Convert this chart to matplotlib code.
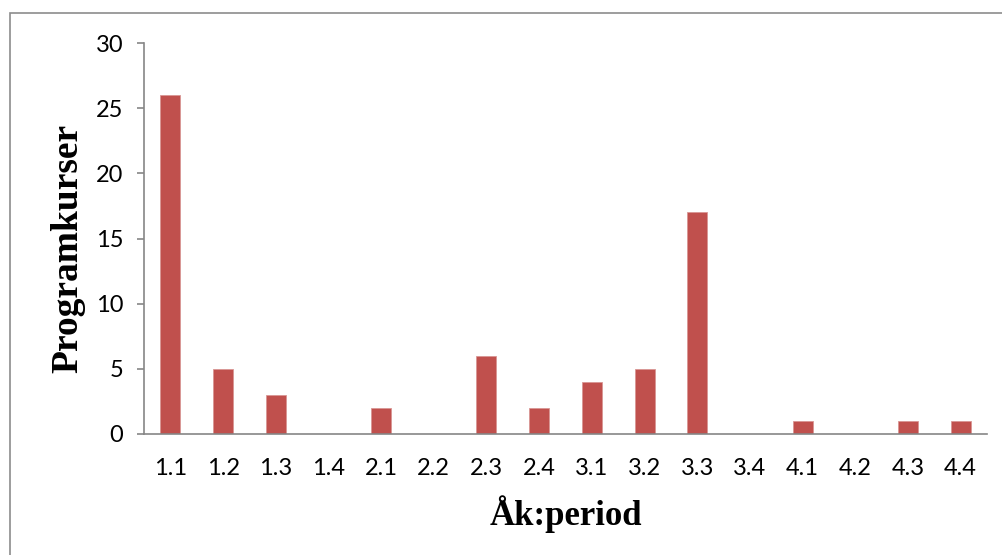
import matplotlib
matplotlib.use("Agg")
import matplotlib.pyplot as plt
from matplotlib.patches import Rectangle
import numpy as np

periods = ["1.1", "1.2", "1.3", "1.4", "2.1", "2.2", "2.3", "2.4",
           "3.1", "3.2", "3.3", "3.4", "4.1", "4.2", "4.3", "4.4"]
courses = [26, 5, 3, 0, 2, 0, 6, 2, 4, 5, 17, 0, 1, 0, 1, 1]

W, H = 1002, 555
fig = plt.figure(figsize=(W / 100, H / 100), dpi=100)
# outer frame of the chart area (only top/left visible in the original)
fig.patches.append(Rectangle((10 / W, -0.1), 1.2, 1 - 13 / H + 0.1, transform=fig.transFigure,
                             fill=False, edgecolor="#8c8c8c", lw=1.2))

ax = fig.add_axes([144 / W, 1 - 434 / H, (987 - 144) / W, (434 - 43) / H])
x = np.arange(len(periods))
ax.bar(x, courses, width=0.38, color="#C0504D", edgecolor="#D99694", lw=0.6)

ax.set_xlim(-0.5, len(periods) - 0.5)
ax.set_ylim(0, 30)
ax.set_yticks(range(0, 31, 5))
ax.set_xticks(x)
ax.set_xticklabels(periods)
for s in ["top", "right"]:
    ax.spines[s].set_visible(False)
for s in ["left", "bottom"]:
    ax.spines[s].set_color("#868686")
    ax.spines[s].set_linewidth(1.2)
ax.tick_params(axis="y", length=5, width=1.2, color="#868686", labelsize=17, pad=10)
ax.tick_params(axis="x", length=0, labelsize=17, pad=17)
for lab in ax.get_xticklabels() + ax.get_yticklabels():
    lab.set_fontfamily("Lato")

ax.set_xlabel("Åk:period", fontfamily="Liberation Serif", fontweight="bold", fontsize=25, labelpad=12)
ax.set_ylabel("Programkurser", fontfamily="Liberation Serif", fontweight="bold", fontsize=27, labelpad=4)
ax.yaxis.set_label_coords(-0.069, 0.475)

fig.savefig("out.png", dpi=100)
